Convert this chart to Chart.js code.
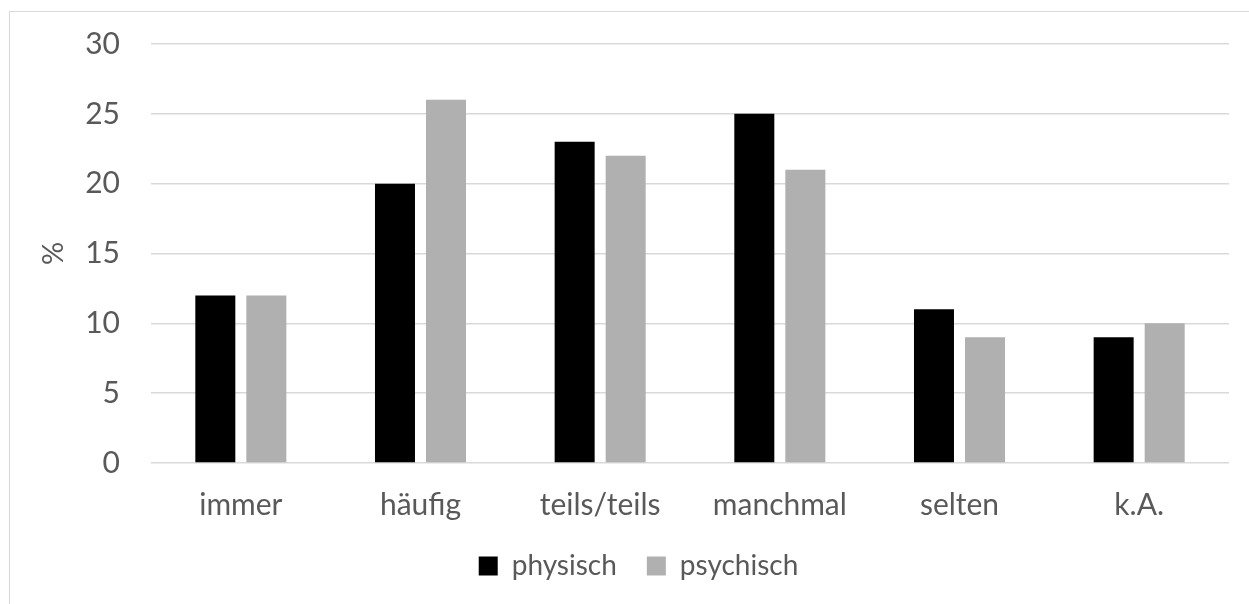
<!DOCTYPE html>
<html>
<head>
<meta charset="utf-8">
<script src="https://cdn.jsdelivr.net/npm/chart.js@4.4.1/dist/chart.umd.min.js"></script>
<style>
  html, body { margin: 0; padding: 0; background: #fff; overflow: hidden; }
  #wrap { position: relative; width: 1249px; height: 604px; }
  #frame { position: absolute; left: 9px; top: 11px; width: 1400px; height: 800px; border: 1px solid #d9d9d9; }
  #chart { position: absolute; left: 0; top: 0; }
</style>
</head>
<body>
<div id="wrap">
  <div id="frame"></div>
  <canvas id="chart" width="1249" height="604"></canvas>
</div>
<script>
// === DATEN ===
const kategorien = ["immer", "häufig", "teils/teils", "manchmal", "selten", "k.A."];
const physisch = [12, 20, 23, 25, 11, 9];
const psychisch = [12, 26, 22, 21, 9, 10];
const yTicks = [0, 5, 10, 15, 20, 25, 30];

const textFarbe = "#595959";
const gitterFarbe = "#d9d9d9";
const schrift = "Lato, 'Open Sans', sans-serif";

const ctx = document.getElementById("chart");

new Chart(ctx, {
  type: "bar",
  data: {
    labels: kategorien,
    datasets: [
      {
        label: "physisch",
        data: physisch,
        backgroundColor: "#000000",
        categoryPercentage: 0.568,
        barPercentage: 0.784,
      },
      {
        label: "psychisch",
        data: psychisch,
        backgroundColor: "#b0b0b0",
        categoryPercentage: 0.568,
        barPercentage: 0.784,
      },
    ],
  },
  options: {
    responsive: false,
    animation: false,
    layout: { padding: { left: 48, right: 20, top: 44, bottom: 14 } },
    scales: {
      x: {
        grid: { display: false, drawTicks: false },
        border: { display: false },
        ticks: { color: textFarbe, font: { family: schrift, size: 30 }, padding: 24 },
        afterFit: (scale) => { scale.height = 59; },
      },
      y: {
        min: 0,
        max: 30,
        afterBuildTicks: (scale) => { scale.ticks = yTicks.map((v) => ({ value: v })); },
        grid: { color: gitterFarbe, lineWidth: 1.5, drawTicks: false },
        border: { display: false },
        ticks: { color: textFarbe, font: { family: schrift, size: 30 }, padding: 31 },
        title: {
          display: true,
          text: "%",
          color: textFarbe,
          font: { family: schrift, size: 29 },
          padding: { top: -12, bottom: 0 },
        },
        afterFit: (scale) => {
          scale.width = 103;
          scale.paddingTop = 0;
          scale.paddingBottom = 0;
        },
      },
    },
    plugins: {
      tooltip: { enabled: false },
      legend: {
        position: "bottom",
        labels: {
          color: textFarbe,
          font: { family: schrift, size: 28 },
          boxWidth: 19,
          boxHeight: 19,
          padding: 30,
        },
      },
    },
  },
});
</script>
</body>
</html>
